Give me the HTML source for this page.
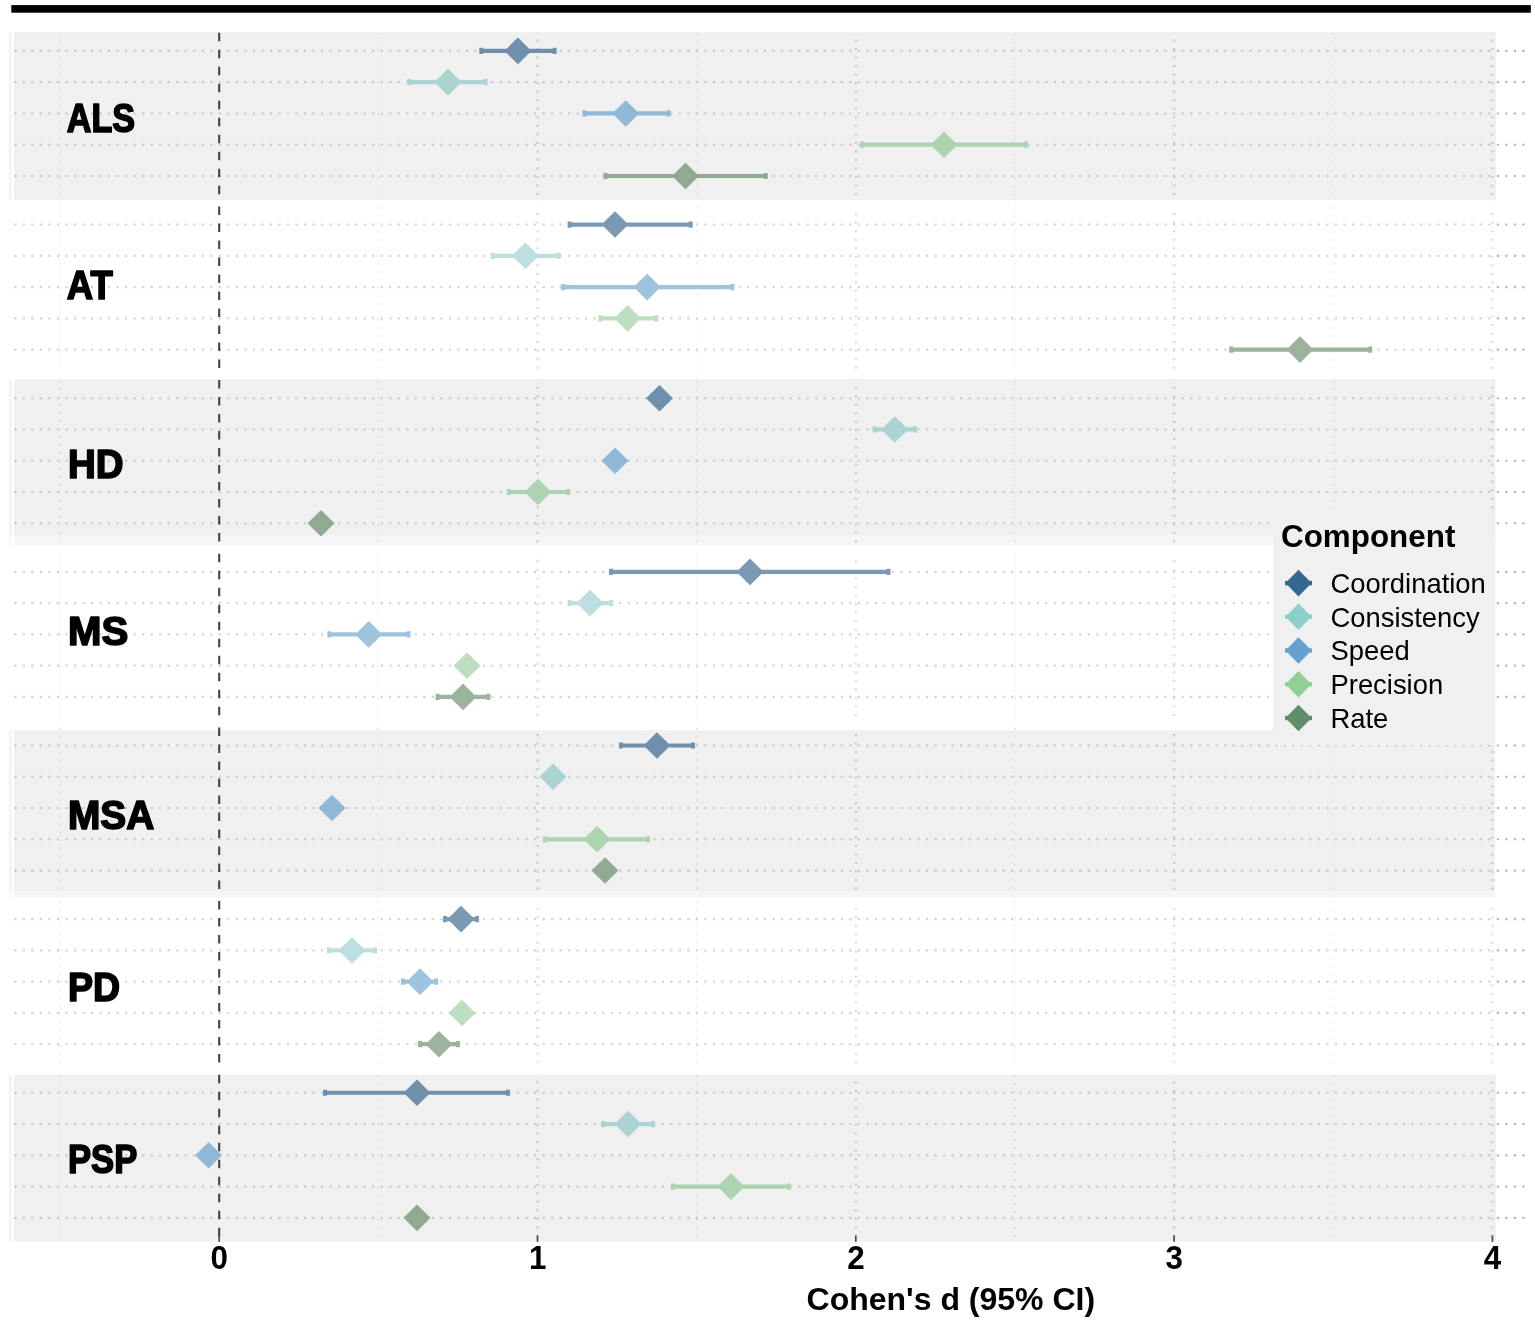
<!DOCTYPE html>
<html lang="en"><head><meta charset="utf-8"><title>Cohen's d (95% CI) by component</title>
<style>html,body{margin:0;padding:0;background:#fff}body{width:1535px;height:1324px;overflow:hidden}svg{display:block}</style></head>
<body>
<svg width="1535" height="1324" viewBox="0 0 1535 1324">
<rect width="1535" height="1324" fill="#fff"/>
<g id="bands">
<rect x="14.1" y="32.2" width="1481.9" height="167.7" fill="#f0f0f0"/>
<rect x="9" y="32.2" width="2.6" height="167.7" fill="#f3f3f3"/>
<rect x="14.1" y="379.1" width="1481.1" height="166.5" fill="#f6f6f6"/>
<rect x="9" y="379.1" width="2.6" height="166.5" fill="#f8f8f8"/>
<rect x="14.1" y="379.1" width="1481.1" height="156.1" fill="#f0f0f0"/>
<rect x="9" y="379.1" width="2.6" height="156.1" fill="#f3f3f3"/>
<rect x="14.1" y="730.3" width="1480.9" height="167.4" fill="#f6f6f6"/>
<rect x="9" y="730.3" width="2.6" height="167.4" fill="#f8f8f8"/>
<rect x="14.1" y="730.3" width="1480.9" height="160.7" fill="#f0f0f0"/>
<rect x="9" y="730.3" width="2.6" height="160.7" fill="#f3f3f3"/>
<rect x="14.1" y="1074.8" width="1481.9" height="166.7" fill="#f0f0f0"/>
<rect x="9" y="1074.8" width="2.6" height="166.7" fill="#f3f3f3"/>
</g>
<g id="grid" fill="none">
<line x1="60.15" x2="60.15" y1="32.9" y2="197" stroke="#dcdcdc" stroke-width="1.4" stroke-dasharray="2 6"/>
<line x1="378.45" x2="378.45" y1="32.9" y2="197" stroke="#dcdcdc" stroke-width="1.4" stroke-dasharray="2 6"/>
<line x1="537.6" x2="537.6" y1="32.8" y2="197" stroke="#c7c7c7" stroke-width="2.13" stroke-dasharray="2.13 6.4" stroke-dashoffset="1.9"/>
<line x1="696.75" x2="696.75" y1="32.9" y2="197" stroke="#dcdcdc" stroke-width="1.4" stroke-dasharray="2 6"/>
<line x1="855.9" x2="855.9" y1="32.8" y2="197" stroke="#c7c7c7" stroke-width="2.13" stroke-dasharray="2.13 6.4" stroke-dashoffset="1.9"/>
<line x1="1015.05" x2="1015.05" y1="32.9" y2="197" stroke="#dcdcdc" stroke-width="1.4" stroke-dasharray="2 6"/>
<line x1="1174.2" x2="1174.2" y1="32.8" y2="197" stroke="#c7c7c7" stroke-width="2.13" stroke-dasharray="2.13 6.4" stroke-dashoffset="1.9"/>
<line x1="1333.35" x2="1333.35" y1="32.9" y2="197" stroke="#dcdcdc" stroke-width="1.4" stroke-dasharray="2 6"/>
<line x1="1492.5" x2="1492.5" y1="32.8" y2="197" stroke="#c7c7c7" stroke-width="2.13" stroke-dasharray="2.13 6.4" stroke-dashoffset="1.9"/>
<line x1="14.3" x2="1495.2" y1="50.9" y2="50.9" stroke="#c7c7c7" stroke-width="2.13" stroke-dasharray="2.13 6.39"/>
<line x1="1495.2" x2="1526" y1="50.9" y2="50.9" stroke="#b4b4b4" stroke-width="2.13" stroke-dasharray="2.13 6.39" stroke-dashoffset="6.94"/>
<line x1="14.3" x2="1495.2" y1="82.17" y2="82.17" stroke="#c7c7c7" stroke-width="2.13" stroke-dasharray="2.13 6.39"/>
<line x1="1495.2" x2="1526" y1="82.17" y2="82.17" stroke="#b4b4b4" stroke-width="2.13" stroke-dasharray="2.13 6.39" stroke-dashoffset="6.94"/>
<line x1="14.3" x2="1495.2" y1="113.44" y2="113.44" stroke="#c7c7c7" stroke-width="2.13" stroke-dasharray="2.13 6.39"/>
<line x1="1495.2" x2="1526" y1="113.44" y2="113.44" stroke="#b4b4b4" stroke-width="2.13" stroke-dasharray="2.13 6.39" stroke-dashoffset="6.94"/>
<line x1="14.3" x2="1495.2" y1="144.71" y2="144.71" stroke="#c7c7c7" stroke-width="2.13" stroke-dasharray="2.13 6.39"/>
<line x1="1495.2" x2="1526" y1="144.71" y2="144.71" stroke="#b4b4b4" stroke-width="2.13" stroke-dasharray="2.13 6.39" stroke-dashoffset="6.94"/>
<line x1="14.3" x2="1495.2" y1="175.98" y2="175.98" stroke="#c7c7c7" stroke-width="2.13" stroke-dasharray="2.13 6.39"/>
<line x1="1495.2" x2="1526" y1="175.98" y2="175.98" stroke="#b4b4b4" stroke-width="2.13" stroke-dasharray="2.13 6.39" stroke-dashoffset="6.94"/>
<line x1="60.15" x2="60.15" y1="206.54" y2="370.64" stroke="#ececec" stroke-width="1.4" stroke-dasharray="2 6"/>
<line x1="378.45" x2="378.45" y1="206.54" y2="370.64" stroke="#ececec" stroke-width="1.4" stroke-dasharray="2 6"/>
<line x1="537.6" x2="537.6" y1="206.44" y2="370.64" stroke="#dcdcdc" stroke-width="2.13" stroke-dasharray="2.13 6.4" stroke-dashoffset="1.9"/>
<line x1="696.75" x2="696.75" y1="206.54" y2="370.64" stroke="#ececec" stroke-width="1.4" stroke-dasharray="2 6"/>
<line x1="855.9" x2="855.9" y1="206.44" y2="370.64" stroke="#dcdcdc" stroke-width="2.13" stroke-dasharray="2.13 6.4" stroke-dashoffset="1.9"/>
<line x1="1015.05" x2="1015.05" y1="206.54" y2="370.64" stroke="#ececec" stroke-width="1.4" stroke-dasharray="2 6"/>
<line x1="1174.2" x2="1174.2" y1="206.44" y2="370.64" stroke="#dcdcdc" stroke-width="2.13" stroke-dasharray="2.13 6.4" stroke-dashoffset="1.9"/>
<line x1="1333.35" x2="1333.35" y1="206.54" y2="370.64" stroke="#ececec" stroke-width="1.4" stroke-dasharray="2 6"/>
<line x1="1492.5" x2="1492.5" y1="206.44" y2="370.64" stroke="#dcdcdc" stroke-width="2.13" stroke-dasharray="2.13 6.4" stroke-dashoffset="1.9"/>
<line x1="14.3" x2="1495.2" y1="224.55" y2="224.55" stroke="#d3d3d3" stroke-width="2.13" stroke-dasharray="2.13 6.39"/>
<line x1="1495.2" x2="1526" y1="224.55" y2="224.55" stroke="#b4b4b4" stroke-width="2.13" stroke-dasharray="2.13 6.39" stroke-dashoffset="6.94"/>
<line x1="14.3" x2="1495.2" y1="255.82" y2="255.82" stroke="#d3d3d3" stroke-width="2.13" stroke-dasharray="2.13 6.39"/>
<line x1="1495.2" x2="1526" y1="255.82" y2="255.82" stroke="#b4b4b4" stroke-width="2.13" stroke-dasharray="2.13 6.39" stroke-dashoffset="6.94"/>
<line x1="14.3" x2="1495.2" y1="287.09" y2="287.09" stroke="#d3d3d3" stroke-width="2.13" stroke-dasharray="2.13 6.39"/>
<line x1="1495.2" x2="1526" y1="287.09" y2="287.09" stroke="#b4b4b4" stroke-width="2.13" stroke-dasharray="2.13 6.39" stroke-dashoffset="6.94"/>
<line x1="14.3" x2="1495.2" y1="318.36" y2="318.36" stroke="#d3d3d3" stroke-width="2.13" stroke-dasharray="2.13 6.39"/>
<line x1="1495.2" x2="1526" y1="318.36" y2="318.36" stroke="#b4b4b4" stroke-width="2.13" stroke-dasharray="2.13 6.39" stroke-dashoffset="6.94"/>
<line x1="14.3" x2="1495.2" y1="349.62" y2="349.62" stroke="#d3d3d3" stroke-width="2.13" stroke-dasharray="2.13 6.39"/>
<line x1="1495.2" x2="1526" y1="349.62" y2="349.62" stroke="#b4b4b4" stroke-width="2.13" stroke-dasharray="2.13 6.39" stroke-dashoffset="6.94"/>
<line x1="60.15" x2="60.15" y1="380.19" y2="544.29" stroke="#dcdcdc" stroke-width="1.4" stroke-dasharray="2 6"/>
<line x1="378.45" x2="378.45" y1="380.19" y2="544.29" stroke="#dcdcdc" stroke-width="1.4" stroke-dasharray="2 6"/>
<line x1="537.6" x2="537.6" y1="380.09" y2="544.29" stroke="#c7c7c7" stroke-width="2.13" stroke-dasharray="2.13 6.4" stroke-dashoffset="1.9"/>
<line x1="696.75" x2="696.75" y1="380.19" y2="544.29" stroke="#dcdcdc" stroke-width="1.4" stroke-dasharray="2 6"/>
<line x1="855.9" x2="855.9" y1="380.09" y2="544.29" stroke="#c7c7c7" stroke-width="2.13" stroke-dasharray="2.13 6.4" stroke-dashoffset="1.9"/>
<line x1="1015.05" x2="1015.05" y1="380.19" y2="544.29" stroke="#dcdcdc" stroke-width="1.4" stroke-dasharray="2 6"/>
<line x1="1174.2" x2="1174.2" y1="380.09" y2="544.29" stroke="#c7c7c7" stroke-width="2.13" stroke-dasharray="2.13 6.4" stroke-dashoffset="1.9"/>
<line x1="1333.35" x2="1333.35" y1="380.19" y2="544.29" stroke="#dcdcdc" stroke-width="1.4" stroke-dasharray="2 6"/>
<line x1="1492.5" x2="1492.5" y1="380.09" y2="544.29" stroke="#c7c7c7" stroke-width="2.13" stroke-dasharray="2.13 6.4" stroke-dashoffset="1.9"/>
<line x1="14.3" x2="1495.2" y1="398.19" y2="398.19" stroke="#c7c7c7" stroke-width="2.13" stroke-dasharray="2.13 6.39"/>
<line x1="1495.2" x2="1526" y1="398.19" y2="398.19" stroke="#b4b4b4" stroke-width="2.13" stroke-dasharray="2.13 6.39" stroke-dashoffset="6.94"/>
<line x1="14.3" x2="1495.2" y1="429.46" y2="429.46" stroke="#c7c7c7" stroke-width="2.13" stroke-dasharray="2.13 6.39"/>
<line x1="1495.2" x2="1526" y1="429.46" y2="429.46" stroke="#b4b4b4" stroke-width="2.13" stroke-dasharray="2.13 6.39" stroke-dashoffset="6.94"/>
<line x1="14.3" x2="1495.2" y1="460.73" y2="460.73" stroke="#c7c7c7" stroke-width="2.13" stroke-dasharray="2.13 6.39"/>
<line x1="1495.2" x2="1526" y1="460.73" y2="460.73" stroke="#b4b4b4" stroke-width="2.13" stroke-dasharray="2.13 6.39" stroke-dashoffset="6.94"/>
<line x1="14.3" x2="1495.2" y1="492" y2="492" stroke="#c7c7c7" stroke-width="2.13" stroke-dasharray="2.13 6.39"/>
<line x1="1495.2" x2="1526" y1="492" y2="492" stroke="#b4b4b4" stroke-width="2.13" stroke-dasharray="2.13 6.39" stroke-dashoffset="6.94"/>
<line x1="14.3" x2="1495.2" y1="523.27" y2="523.27" stroke="#c7c7c7" stroke-width="2.13" stroke-dasharray="2.13 6.39"/>
<line x1="1495.2" x2="1526" y1="523.27" y2="523.27" stroke="#b4b4b4" stroke-width="2.13" stroke-dasharray="2.13 6.39" stroke-dashoffset="6.94"/>
<line x1="60.15" x2="60.15" y1="553.84" y2="717.93" stroke="#ececec" stroke-width="1.4" stroke-dasharray="2 6"/>
<line x1="378.45" x2="378.45" y1="553.84" y2="717.93" stroke="#ececec" stroke-width="1.4" stroke-dasharray="2 6"/>
<line x1="537.6" x2="537.6" y1="553.74" y2="717.93" stroke="#dcdcdc" stroke-width="2.13" stroke-dasharray="2.13 6.4" stroke-dashoffset="1.9"/>
<line x1="696.75" x2="696.75" y1="553.84" y2="717.93" stroke="#ececec" stroke-width="1.4" stroke-dasharray="2 6"/>
<line x1="855.9" x2="855.9" y1="553.74" y2="717.93" stroke="#dcdcdc" stroke-width="2.13" stroke-dasharray="2.13 6.4" stroke-dashoffset="1.9"/>
<line x1="1015.05" x2="1015.05" y1="553.84" y2="717.93" stroke="#ececec" stroke-width="1.4" stroke-dasharray="2 6"/>
<line x1="1174.2" x2="1174.2" y1="553.74" y2="717.93" stroke="#dcdcdc" stroke-width="2.13" stroke-dasharray="2.13 6.4" stroke-dashoffset="1.9"/>
<line x1="1333.35" x2="1333.35" y1="553.84" y2="717.93" stroke="#ececec" stroke-width="1.4" stroke-dasharray="2 6"/>
<line x1="1492.5" x2="1492.5" y1="553.74" y2="717.93" stroke="#dcdcdc" stroke-width="2.13" stroke-dasharray="2.13 6.4" stroke-dashoffset="1.9"/>
<line x1="14.3" x2="1495.2" y1="571.84" y2="571.84" stroke="#d3d3d3" stroke-width="2.13" stroke-dasharray="2.13 6.39"/>
<line x1="1495.2" x2="1526" y1="571.84" y2="571.84" stroke="#b4b4b4" stroke-width="2.13" stroke-dasharray="2.13 6.39" stroke-dashoffset="6.94"/>
<line x1="14.3" x2="1495.2" y1="603.11" y2="603.11" stroke="#d3d3d3" stroke-width="2.13" stroke-dasharray="2.13 6.39"/>
<line x1="1495.2" x2="1526" y1="603.11" y2="603.11" stroke="#b4b4b4" stroke-width="2.13" stroke-dasharray="2.13 6.39" stroke-dashoffset="6.94"/>
<line x1="14.3" x2="1495.2" y1="634.38" y2="634.38" stroke="#d3d3d3" stroke-width="2.13" stroke-dasharray="2.13 6.39"/>
<line x1="1495.2" x2="1526" y1="634.38" y2="634.38" stroke="#b4b4b4" stroke-width="2.13" stroke-dasharray="2.13 6.39" stroke-dashoffset="6.94"/>
<line x1="14.3" x2="1495.2" y1="665.64" y2="665.64" stroke="#d3d3d3" stroke-width="2.13" stroke-dasharray="2.13 6.39"/>
<line x1="1495.2" x2="1526" y1="665.64" y2="665.64" stroke="#b4b4b4" stroke-width="2.13" stroke-dasharray="2.13 6.39" stroke-dashoffset="6.94"/>
<line x1="14.3" x2="1495.2" y1="696.92" y2="696.92" stroke="#d3d3d3" stroke-width="2.13" stroke-dasharray="2.13 6.39"/>
<line x1="1495.2" x2="1526" y1="696.92" y2="696.92" stroke="#b4b4b4" stroke-width="2.13" stroke-dasharray="2.13 6.39" stroke-dashoffset="6.94"/>
<line x1="60.15" x2="60.15" y1="727.48" y2="891.58" stroke="#dcdcdc" stroke-width="1.4" stroke-dasharray="2 6"/>
<line x1="378.45" x2="378.45" y1="727.48" y2="891.58" stroke="#dcdcdc" stroke-width="1.4" stroke-dasharray="2 6"/>
<line x1="537.6" x2="537.6" y1="727.38" y2="891.58" stroke="#c7c7c7" stroke-width="2.13" stroke-dasharray="2.13 6.4" stroke-dashoffset="1.9"/>
<line x1="696.75" x2="696.75" y1="727.48" y2="891.58" stroke="#dcdcdc" stroke-width="1.4" stroke-dasharray="2 6"/>
<line x1="855.9" x2="855.9" y1="727.38" y2="891.58" stroke="#c7c7c7" stroke-width="2.13" stroke-dasharray="2.13 6.4" stroke-dashoffset="1.9"/>
<line x1="1015.05" x2="1015.05" y1="727.48" y2="891.58" stroke="#dcdcdc" stroke-width="1.4" stroke-dasharray="2 6"/>
<line x1="1174.2" x2="1174.2" y1="727.38" y2="891.58" stroke="#c7c7c7" stroke-width="2.13" stroke-dasharray="2.13 6.4" stroke-dashoffset="1.9"/>
<line x1="1333.35" x2="1333.35" y1="727.48" y2="891.58" stroke="#dcdcdc" stroke-width="1.4" stroke-dasharray="2 6"/>
<line x1="1492.5" x2="1492.5" y1="727.38" y2="891.58" stroke="#c7c7c7" stroke-width="2.13" stroke-dasharray="2.13 6.4" stroke-dashoffset="1.9"/>
<line x1="14.3" x2="1495.2" y1="745.48" y2="745.48" stroke="#c7c7c7" stroke-width="2.13" stroke-dasharray="2.13 6.39"/>
<line x1="1495.2" x2="1526" y1="745.48" y2="745.48" stroke="#b4b4b4" stroke-width="2.13" stroke-dasharray="2.13 6.39" stroke-dashoffset="6.94"/>
<line x1="14.3" x2="1495.2" y1="776.75" y2="776.75" stroke="#c7c7c7" stroke-width="2.13" stroke-dasharray="2.13 6.39"/>
<line x1="1495.2" x2="1526" y1="776.75" y2="776.75" stroke="#b4b4b4" stroke-width="2.13" stroke-dasharray="2.13 6.39" stroke-dashoffset="6.94"/>
<line x1="14.3" x2="1495.2" y1="808.02" y2="808.02" stroke="#c7c7c7" stroke-width="2.13" stroke-dasharray="2.13 6.39"/>
<line x1="1495.2" x2="1526" y1="808.02" y2="808.02" stroke="#b4b4b4" stroke-width="2.13" stroke-dasharray="2.13 6.39" stroke-dashoffset="6.94"/>
<line x1="14.3" x2="1495.2" y1="839.29" y2="839.29" stroke="#c7c7c7" stroke-width="2.13" stroke-dasharray="2.13 6.39"/>
<line x1="1495.2" x2="1526" y1="839.29" y2="839.29" stroke="#b4b4b4" stroke-width="2.13" stroke-dasharray="2.13 6.39" stroke-dashoffset="6.94"/>
<line x1="14.3" x2="1495.2" y1="870.56" y2="870.56" stroke="#c7c7c7" stroke-width="2.13" stroke-dasharray="2.13 6.39"/>
<line x1="1495.2" x2="1526" y1="870.56" y2="870.56" stroke="#b4b4b4" stroke-width="2.13" stroke-dasharray="2.13 6.39" stroke-dashoffset="6.94"/>
<line x1="60.15" x2="60.15" y1="901.12" y2="1065.22" stroke="#ececec" stroke-width="1.4" stroke-dasharray="2 6"/>
<line x1="378.45" x2="378.45" y1="901.12" y2="1065.22" stroke="#ececec" stroke-width="1.4" stroke-dasharray="2 6"/>
<line x1="537.6" x2="537.6" y1="901.02" y2="1065.22" stroke="#dcdcdc" stroke-width="2.13" stroke-dasharray="2.13 6.4" stroke-dashoffset="1.9"/>
<line x1="696.75" x2="696.75" y1="901.12" y2="1065.22" stroke="#ececec" stroke-width="1.4" stroke-dasharray="2 6"/>
<line x1="855.9" x2="855.9" y1="901.02" y2="1065.22" stroke="#dcdcdc" stroke-width="2.13" stroke-dasharray="2.13 6.4" stroke-dashoffset="1.9"/>
<line x1="1015.05" x2="1015.05" y1="901.12" y2="1065.22" stroke="#ececec" stroke-width="1.4" stroke-dasharray="2 6"/>
<line x1="1174.2" x2="1174.2" y1="901.02" y2="1065.22" stroke="#dcdcdc" stroke-width="2.13" stroke-dasharray="2.13 6.4" stroke-dashoffset="1.9"/>
<line x1="1333.35" x2="1333.35" y1="901.12" y2="1065.22" stroke="#ececec" stroke-width="1.4" stroke-dasharray="2 6"/>
<line x1="1492.5" x2="1492.5" y1="901.02" y2="1065.22" stroke="#dcdcdc" stroke-width="2.13" stroke-dasharray="2.13 6.4" stroke-dashoffset="1.9"/>
<line x1="14.3" x2="1495.2" y1="919.12" y2="919.12" stroke="#d3d3d3" stroke-width="2.13" stroke-dasharray="2.13 6.39"/>
<line x1="1495.2" x2="1526" y1="919.12" y2="919.12" stroke="#b4b4b4" stroke-width="2.13" stroke-dasharray="2.13 6.39" stroke-dashoffset="6.94"/>
<line x1="14.3" x2="1495.2" y1="950.39" y2="950.39" stroke="#d3d3d3" stroke-width="2.13" stroke-dasharray="2.13 6.39"/>
<line x1="1495.2" x2="1526" y1="950.39" y2="950.39" stroke="#b4b4b4" stroke-width="2.13" stroke-dasharray="2.13 6.39" stroke-dashoffset="6.94"/>
<line x1="14.3" x2="1495.2" y1="981.66" y2="981.66" stroke="#d3d3d3" stroke-width="2.13" stroke-dasharray="2.13 6.39"/>
<line x1="1495.2" x2="1526" y1="981.66" y2="981.66" stroke="#b4b4b4" stroke-width="2.13" stroke-dasharray="2.13 6.39" stroke-dashoffset="6.94"/>
<line x1="14.3" x2="1495.2" y1="1012.93" y2="1012.93" stroke="#d3d3d3" stroke-width="2.13" stroke-dasharray="2.13 6.39"/>
<line x1="1495.2" x2="1526" y1="1012.93" y2="1012.93" stroke="#b4b4b4" stroke-width="2.13" stroke-dasharray="2.13 6.39" stroke-dashoffset="6.94"/>
<line x1="14.3" x2="1495.2" y1="1044.2" y2="1044.2" stroke="#d3d3d3" stroke-width="2.13" stroke-dasharray="2.13 6.39"/>
<line x1="1495.2" x2="1526" y1="1044.2" y2="1044.2" stroke="#b4b4b4" stroke-width="2.13" stroke-dasharray="2.13 6.39" stroke-dashoffset="6.94"/>
<line x1="60.15" x2="60.15" y1="1074.77" y2="1238.87" stroke="#dcdcdc" stroke-width="1.4" stroke-dasharray="2 6"/>
<line x1="378.45" x2="378.45" y1="1074.77" y2="1238.87" stroke="#dcdcdc" stroke-width="1.4" stroke-dasharray="2 6"/>
<line x1="537.6" x2="537.6" y1="1074.67" y2="1238.87" stroke="#c7c7c7" stroke-width="2.13" stroke-dasharray="2.13 6.4" stroke-dashoffset="1.9"/>
<line x1="696.75" x2="696.75" y1="1074.77" y2="1238.87" stroke="#dcdcdc" stroke-width="1.4" stroke-dasharray="2 6"/>
<line x1="855.9" x2="855.9" y1="1074.67" y2="1238.87" stroke="#c7c7c7" stroke-width="2.13" stroke-dasharray="2.13 6.4" stroke-dashoffset="1.9"/>
<line x1="1015.05" x2="1015.05" y1="1074.77" y2="1238.87" stroke="#dcdcdc" stroke-width="1.4" stroke-dasharray="2 6"/>
<line x1="1174.2" x2="1174.2" y1="1074.67" y2="1238.87" stroke="#c7c7c7" stroke-width="2.13" stroke-dasharray="2.13 6.4" stroke-dashoffset="1.9"/>
<line x1="1333.35" x2="1333.35" y1="1074.77" y2="1238.87" stroke="#dcdcdc" stroke-width="1.4" stroke-dasharray="2 6"/>
<line x1="1492.5" x2="1492.5" y1="1074.67" y2="1238.87" stroke="#c7c7c7" stroke-width="2.13" stroke-dasharray="2.13 6.4" stroke-dashoffset="1.9"/>
<line x1="14.3" x2="1495.2" y1="1092.77" y2="1092.77" stroke="#c7c7c7" stroke-width="2.13" stroke-dasharray="2.13 6.39"/>
<line x1="1495.2" x2="1526" y1="1092.77" y2="1092.77" stroke="#b4b4b4" stroke-width="2.13" stroke-dasharray="2.13 6.39" stroke-dashoffset="6.94"/>
<line x1="14.3" x2="1495.2" y1="1124.04" y2="1124.04" stroke="#c7c7c7" stroke-width="2.13" stroke-dasharray="2.13 6.39"/>
<line x1="1495.2" x2="1526" y1="1124.04" y2="1124.04" stroke="#b4b4b4" stroke-width="2.13" stroke-dasharray="2.13 6.39" stroke-dashoffset="6.94"/>
<line x1="14.3" x2="1495.2" y1="1155.31" y2="1155.31" stroke="#c7c7c7" stroke-width="2.13" stroke-dasharray="2.13 6.39"/>
<line x1="1495.2" x2="1526" y1="1155.31" y2="1155.31" stroke="#b4b4b4" stroke-width="2.13" stroke-dasharray="2.13 6.39" stroke-dashoffset="6.94"/>
<line x1="14.3" x2="1495.2" y1="1186.58" y2="1186.58" stroke="#c7c7c7" stroke-width="2.13" stroke-dasharray="2.13 6.39"/>
<line x1="1495.2" x2="1526" y1="1186.58" y2="1186.58" stroke="#b4b4b4" stroke-width="2.13" stroke-dasharray="2.13 6.39" stroke-dashoffset="6.94"/>
<line x1="14.3" x2="1495.2" y1="1217.85" y2="1217.85" stroke="#c7c7c7" stroke-width="2.13" stroke-dasharray="2.13 6.39"/>
<line x1="1495.2" x2="1526" y1="1217.85" y2="1217.85" stroke="#b4b4b4" stroke-width="2.13" stroke-dasharray="2.13 6.39" stroke-dashoffset="6.94"/>
</g>
<g id="ticks">
<line x1="219.2" x2="219.2" y1="1235.5" y2="1241.8" stroke="#4a4a4a" stroke-width="1.7"/>
<line x1="537.5" x2="537.5" y1="1235.5" y2="1241.8" stroke="#4a4a4a" stroke-width="1.7"/>
<line x1="855.8" x2="855.8" y1="1235.5" y2="1241.8" stroke="#4a4a4a" stroke-width="1.7"/>
<line x1="1174.1" x2="1174.1" y1="1235.5" y2="1241.8" stroke="#4a4a4a" stroke-width="1.7"/>
<line x1="1492.4" x2="1492.4" y1="1235.5" y2="1241.8" stroke="#4a4a4a" stroke-width="1.7"/>
</g>
<rect x="1273.3" y="510" width="221.9" height="235" fill="#f0f0f0"/>
<g id="data">
<path d="M479.3 48.8H556.6V53H479.3ZM479.3 47.8h4v6.2h-4ZM552.6 47.8h4v6.2h-4ZM504.4 50.9L517.9 37.6L531.4 50.9L517.9 64.2Z" fill="#6f90ac" fill-rule="nonzero"/>
<path d="M407.2 80.07H487.6V84.27H407.2ZM407.2 79.07h4v6.2h-4ZM483.6 79.07h4v6.2h-4ZM434.5 82.17L448 68.87L461.5 82.17L448 95.47Z" fill="#aad3d2" fill-rule="nonzero"/>
<path d="M582.5 111.34H670.6V115.54H582.5ZM582.5 110.34h4v6.2h-4ZM666.6 110.34h4v6.2h-4ZM612.3 113.44L625.8 100.14L639.3 113.44L625.8 126.74Z" fill="#90b9d7" fill-rule="nonzero"/>
<path d="M860 142.61H1028V146.81H860ZM860 141.61h4v6.2h-4ZM1024 141.61h4v6.2h-4ZM930.5 144.71L944 131.41L957.5 144.71L944 158.01Z" fill="#aed3b0" fill-rule="nonzero"/>
<path d="M603.6 173.88H767.8V178.08H603.6ZM603.6 172.88h4v6.2h-4ZM763.8 172.88h4v6.2h-4ZM672 175.98L685.5 162.68L699 175.98L685.5 189.28Z" fill="#8fa992" fill-rule="nonzero"/>
<path d="M567.6 222.45H692.7V226.65H567.6ZM567.6 221.45h4v6.2h-4ZM688.7 221.45h4v6.2h-4ZM601.5 224.55L615 211.25L628.5 224.55L615 237.85Z" fill="#7c99b4" fill-rule="nonzero"/>
<path d="M490.7 253.72H560.6V257.92H490.7ZM490.7 252.72h4v6.2h-4ZM556.6 252.72h4v6.2h-4ZM511.9 255.82L525.4 242.52L538.9 255.82L525.4 269.12Z" fill="#bedfdf" fill-rule="nonzero"/>
<path d="M561.1 284.99H734.4V289.19H561.1ZM561.1 283.99h4v6.2h-4ZM730.4 283.99h4v6.2h-4ZM633.6 287.09L647.1 273.79L660.6 287.09L647.1 300.39Z" fill="#9dc3df" fill-rule="nonzero"/>
<path d="M598.4 316.25H658.3V320.46H598.4ZM598.4 315.25h4v6.2h-4ZM654.3 315.25h4v6.2h-4ZM614.1 318.36L627.6 305.06L641.1 318.36L627.6 331.66Z" fill="#bedfbf" fill-rule="nonzero"/>
<path d="M1229.2 347.52H1372.2V351.73H1229.2ZM1229.2 346.52h4v6.2h-4ZM1368.2 346.52h4v6.2h-4ZM1286.5 349.62L1300 336.32L1313.5 349.62L1300 362.93Z" fill="#9cb49e" fill-rule="nonzero"/>
<path d="M646 398.19L659.5 384.89L673 398.19L659.5 411.49Z" fill="#6f90ac" fill-rule="nonzero"/>
<path d="M872.5 427.36H916.8V431.56H872.5ZM872.5 426.36h4v6.2h-4ZM912.8 426.36h4v6.2h-4ZM881.2 429.46L894.7 416.16L908.2 429.46L894.7 442.76Z" fill="#aad3d2" fill-rule="nonzero"/>
<path d="M601.5 460.73L615 447.43L628.5 460.73L615 474.03Z" fill="#90b9d7" fill-rule="nonzero"/>
<path d="M506.8 489.9H570.2V494.1H506.8ZM506.8 488.9h4v6.2h-4ZM566.2 488.9h4v6.2h-4ZM524.5 492L538 478.7L551.5 492L538 505.3Z" fill="#aed3b0" fill-rule="nonzero"/>
<path d="M307.5 523.27L321 509.97L334.5 523.27L321 536.57Z" fill="#8fa992" fill-rule="nonzero"/>
<path d="M609 569.74H890.5V573.94H609ZM609 568.74h4v6.2h-4ZM886.5 568.74h4v6.2h-4ZM736.5 571.84L750 558.54L763.5 571.84L750 585.13Z" fill="#7c99b4" fill-rule="nonzero"/>
<path d="M567.6 601H613.2V605.21H567.6ZM567.6 600h4v6.2h-4ZM609.2 600h4v6.2h-4ZM576.5 603.11L590 589.81L603.5 603.11L590 616.4Z" fill="#bedfdf" fill-rule="nonzero"/>
<path d="M327.4 632.27H410.5V636.48H327.4ZM327.4 631.27h4v6.2h-4ZM406.5 631.27h4v6.2h-4ZM355.2 634.38L368.7 621.08L382.2 634.38L368.7 647.67Z" fill="#9dc3df" fill-rule="nonzero"/>
<path d="M453.5 665.64L467 652.35L480.5 665.64L467 678.94Z" fill="#bedfbf" fill-rule="nonzero"/>
<path d="M435.6 694.82H490.4V699.02H435.6ZM435.6 693.82h4v6.2h-4ZM486.4 693.82h4v6.2h-4ZM449.5 696.92L463 683.62L476.5 696.92L463 710.22Z" fill="#9cb49e" fill-rule="nonzero"/>
<path d="M619 743.38H695V747.58H619ZM619 742.38h4v6.2h-4ZM691 742.38h4v6.2h-4ZM643.5 745.48L657 732.18L670.5 745.48L657 758.78Z" fill="#6f90ac" fill-rule="nonzero"/>
<path d="M539.5 776.75L553 763.45L566.5 776.75L553 790.05Z" fill="#aad3d2" fill-rule="nonzero"/>
<path d="M318.5 808.02L332 794.72L345.5 808.02L332 821.32Z" fill="#90b9d7" fill-rule="nonzero"/>
<path d="M543 837.19H650V841.39H543ZM543 836.19h4v6.2h-4ZM646 836.19h4v6.2h-4ZM583.5 839.29L597 825.99L610.5 839.29L597 852.59Z" fill="#aed3b0" fill-rule="nonzero"/>
<path d="M591.5 870.56L605 857.26L618.5 870.56L605 883.86Z" fill="#8fa992" fill-rule="nonzero"/>
<path d="M443 917.02H479V921.23H443ZM443 916.02h4v6.2h-4ZM475 916.02h4v6.2h-4ZM447.5 919.12L461 905.83L474.5 919.12L461 932.42Z" fill="#7c99b4" fill-rule="nonzero"/>
<path d="M327 948.29H377V952.5H327ZM327 947.29h4v6.2h-4ZM373 947.29h4v6.2h-4ZM338.5 950.39L352 937.1L365.5 950.39L352 963.69Z" fill="#bedfdf" fill-rule="nonzero"/>
<path d="M401 979.56H438V983.76H401ZM401 978.56h4v6.2h-4ZM434 978.56h4v6.2h-4ZM406.5 981.66L420 968.37L433.5 981.66L420 994.96Z" fill="#9dc3df" fill-rule="nonzero"/>
<path d="M448.5 1012.93L462 999.63L475.5 1012.93L462 1026.23Z" fill="#bedfbf" fill-rule="nonzero"/>
<path d="M418 1042.11H460V1046.3H418ZM418 1041.11h4v6.2h-4ZM456 1041.11h4v6.2h-4ZM425.5 1044.2L439 1030.9L452.5 1044.2L439 1057.5Z" fill="#9cb49e" fill-rule="nonzero"/>
<path d="M323 1090.67H510V1094.87H323ZM323 1089.67h4v6.2h-4ZM506 1089.67h4v6.2h-4ZM403.5 1092.77L417 1079.47L430.5 1092.77L417 1106.07Z" fill="#6f90ac" fill-rule="nonzero"/>
<path d="M601 1121.94H655V1126.14H601ZM601 1120.94h4v6.2h-4ZM651 1120.94h4v6.2h-4ZM614.5 1124.04L628 1110.74L641.5 1124.04L628 1137.34Z" fill="#aad3d2" fill-rule="nonzero"/>
<path d="M195.1 1155.31L208.6 1142.01L222.1 1155.31L208.6 1168.61Z" fill="#90b9d7" fill-rule="nonzero"/>
<path d="M671 1184.48H791V1188.68H671ZM671 1183.48h4v6.2h-4ZM787 1183.48h4v6.2h-4ZM717.5 1186.58L731 1173.28L744.5 1186.58L731 1199.88Z" fill="#aed3b0" fill-rule="nonzero"/>
<path d="M403.5 1217.85L417 1204.55L430.5 1217.85L417 1231.15Z" fill="#8fa992" fill-rule="nonzero"/>
</g>
<g id="zero" fill="none" stroke="#404040" stroke-width="2.05" stroke-dasharray="8.5 8.5">
<line x1="219.2" x2="219.2" y1="32.8" y2="197"/>
<line x1="219.2" x2="219.2" y1="206.44" y2="370.64"/>
<line x1="219.2" x2="219.2" y1="380.09" y2="544.29"/>
<line x1="219.2" x2="219.2" y1="553.74" y2="717.93"/>
<line x1="219.2" x2="219.2" y1="727.38" y2="891.58"/>
<line x1="219.2" x2="219.2" y1="901.02" y2="1065.22"/>
<line x1="219.2" x2="219.2" y1="1074.67" y2="1238.87"/>
</g>
<g id="labels" font-family="'Liberation Sans', Arial, Helvetica, sans-serif" font-weight="bold" font-size="40.4" fill="#000" stroke="#000" stroke-width="1.7" stroke-linejoin="round">
<text transform="translate(66.86 132.0) scale(0.8453 1)">ALS</text>
<text transform="translate(66.86 298.7) scale(0.9033 1)">AT</text>
<text transform="translate(67.98 478.0) scale(0.9516 1)">HD</text>
<text transform="translate(67.98 645.0) scale(0.9946 1)">MS</text>
<text transform="translate(67.98 828.7) scale(0.9622 1)">MSA</text>
<text transform="translate(67.98 1000.8) scale(0.9274 1)">PD</text>
<text transform="translate(67.98 1173.4) scale(0.8565 1)">PSP</text>
</g>
<g id="axis" font-family="'Liberation Sans', Arial, Helvetica, sans-serif" font-weight="bold" fill="#000" text-anchor="middle">
<text transform="translate(219.3 1269.1) scale(0.98 1.05)" font-size="32">0</text>
<text transform="translate(537.6 1269.1) scale(0.98 1.05)" font-size="32">1</text>
<text transform="translate(855.9 1269.1) scale(0.98 1.05)" font-size="32">2</text>
<text transform="translate(1174.2 1269.1) scale(0.98 1.05)" font-size="32">3</text>
<text transform="translate(1492.5 1269.1) scale(0.98 1.05)" font-size="32">4</text>
<text x="950.8" y="1310.3" font-size="32">Cohen's d (95% CI)</text>
</g>
<g id="legend" font-family="'Liberation Sans', Arial, Helvetica, sans-serif" fill="#000">
<text x="1281" y="546.9" font-weight="bold" font-size="31.4">Component</text>
<path d="M1285 580.9h27v4.4h-27Z" fill="#346892"/>
<path d="M1285.5 583.1L1298.5 569.8L1311.5 583.1L1298.5 596.4Z" fill="#346892"/>
<text x="1330.5" y="592.9" font-size="27.4">Coordination</text>
<path d="M1285 614.6h27v4.4h-27Z" fill="#8cd0ce"/>
<path d="M1285.5 616.8L1298.5 603.5L1311.5 616.8L1298.5 630.1Z" fill="#8cd0ce"/>
<text x="1330.5" y="626.6" font-size="27.4">Consistency</text>
<path d="M1285 648.3h27v4.4h-27Z" fill="#62a2d0"/>
<path d="M1285.5 650.5L1298.5 637.2L1311.5 650.5L1298.5 663.8Z" fill="#62a2d0"/>
<text x="1330.5" y="660.3" font-size="27.4">Speed</text>
<path d="M1285 682.1h27v4.4h-27Z" fill="#90d098"/>
<path d="M1285.5 684.3L1298.5 671L1311.5 684.3L1298.5 697.6Z" fill="#90d098"/>
<text x="1330.5" y="694.1" font-size="27.4">Precision</text>
<path d="M1285 715.8h27v4.4h-27Z" fill="#608e6a"/>
<path d="M1285.5 718L1298.5 704.7L1311.5 718L1298.5 731.3Z" fill="#608e6a"/>
<text x="1330.5" y="727.8" font-size="27.4">Rate</text>
</g>
<rect x="11.3" y="5.1" width="1519.5" height="7.6" fill="#000"/>
</svg>
</body></html>
